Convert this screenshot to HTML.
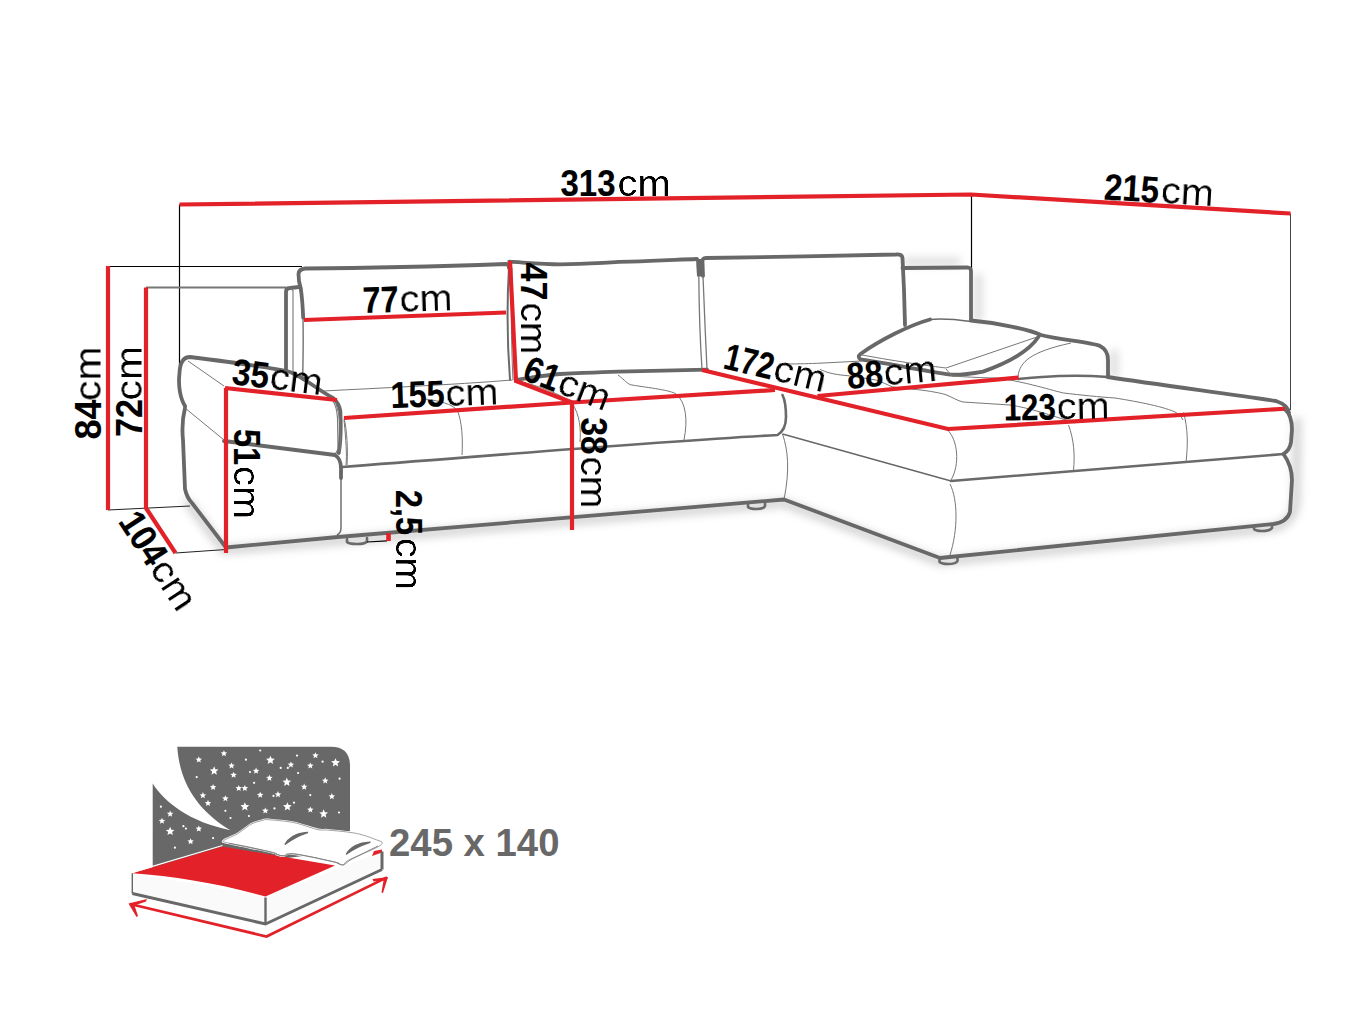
<!DOCTYPE html>
<html><head><meta charset="utf-8"><style>
html,body{margin:0;padding:0;background:#fff;width:1368px;height:1026px;overflow:hidden}
svg{display:block}
text{font-family:"Liberation Sans",sans-serif}
.r{stroke:#e32129;stroke-width:4.2;fill:none;stroke-linecap:butt;stroke-linejoin:miter}
.g{stroke:#686868;stroke-width:3.8;fill:none;stroke-linecap:round;stroke-linejoin:round}
.gm{stroke:#6a6a6a;stroke-width:2.6;fill:none;stroke-linecap:round;stroke-linejoin:round}
.t{stroke:#777;stroke-width:1;fill:none}
.k{stroke:#000;stroke-width:1.2;fill:none}
.d{font-weight:bold;font-size:37px;fill:#000;stroke:#000;stroke-width:0.15}
.c{font-size:36px;fill:#000;filter:url(#thin)}
</style></head><body>
<svg width="1368" height="1026" viewBox="0 0 1368 1026">
<defs>
<filter id="sh" x="-10%" y="-50%" width="120%" height="200%"><feGaussianBlur stdDeviation="4"/></filter>
<filter id="thin" x="-5%" y="-5%" width="110%" height="110%"><feGaussianBlur in="SourceAlpha" stdDeviation="0.45" result="b"/><feComponentTransfer in="b" result="a"><feFuncA type="linear" slope="2.2" intercept="-0.75"/></feComponentTransfer><feFlood flood-color="#000"/><feComposite in2="a" operator="in"/></filter>
<filter id="sh2" x="-50%" y="-50%" width="200%" height="200%"><feGaussianBlur stdDeviation="4"/></filter>
</defs>
<!-- shadows -->
<g filter="url(#sh)" opacity="0.4">
<path d="M186,500 L224,550 L338,541 L784,503 L940,562 L1273,528 Q1295,522 1296,500 L1297,418" stroke="#888" stroke-width="8" fill="none"/>
</g>
<g filter="url(#sh2)" opacity="0.35">
<path d="M978,274 V322 M908,258 V266 M905,262 H960" stroke="#999" stroke-width="8" fill="none"/>
<path d="M1114,350 V378" stroke="#999" stroke-width="8" fill="none"/>
</g>
<!-- extension lines -->
<path class="k" d="M179.5,204.5 V373"/>
<path class="k" d="M108,266.5 H302"/>
<path class="t" d="M146,287.5 H286" style="stroke:#777;stroke-width:1.8"/>
<path class="k" d="M108,510 L190,506" style="stroke:#222;stroke-width:1"/>
<path class="k" d="M175.5,553 L226,549.5" style="stroke:#222;stroke-width:1"/>
<path class="k" d="M971.5,194.5 V269"/>
<path class="k" d="M1290.5,213.5 V410" style="stroke:#444;stroke-width:1"/>

<!-- ===== SOFA ===== -->
<g id="sofa">
<!-- cushion 3 back + right back piece -->
<path class="g" d="M902.5,268 L968,267.5 Q971,268 971,271 L971,320"/>
<path class="g" d="M703,276 L702.5,262 Q702,258 706,258 C760,257 840,256 896,254.5 Q902,254 902.5,258 L904,290 L905,325"/>
<!-- cushion 2 -->
<path class="g" d="M509.3,261.7 C530,263 545,264.3 560,264.3 C590,264 610,262 630.4,261.7 C660,261 680,259.5 697,259"/>
<path d="M696,259 L703,259 L703.5,276.5 L697,276.5 Z" fill="#686868"/>
<path class="t" d="M698.8,276 C699,300 700,340 702,369 M703,276 C704,300 705.5,340 707,369" style="stroke-width:1.3"/>
<path class="g" d="M516.3,380 C530,378 545,375 560,374 C590,372.5 610,371.5 630,371.3 C660,370.5 685,370 707,369.6"/>
<!-- cushion 1 -->
<path class="t" d="M303,320 C303.5,340 303,360 302.7,381" style="stroke:#666;stroke-width:1.3"/>
<path class="g" d="M303.2,318 Q302.5,300 300.7,288 Q298.5,282 298.5,274 Q299,269 305,268.5 C380,268 450,266 506,264 Q509,264 509,268"/>
<path class="gm" d="M509,267 C507,300 507,340 510,380" style="stroke-width:2"/>
<path class="t" d="M512,268 C511,300 511,340 513,380"/>
<!-- armrest back piece -->
<path class="g" d="M286,372 L286,292 Q286,288 290,288 L299,287"/>
<path class="t" d="M290.5,288.4 L293,290.5 V374" style="stroke-width:1.1"/>
<!-- chaise arm / back line -->
<path class="g" d="M971,320.5 C1000,323 1030,330 1041,335 C1060,340 1090,342 1100,346 Q1108,350 1108,360 L1108,377"/>
<path class="g" d="M1108,377 C1160,385 1230,394 1276,401 Q1288,405 1289,413"/>
<path class="t" d="M1018,376 C1020,362 1030,352 1071,343"/>
<path class="gm" d="M1018,379 C1040,377 1070,374 1108,377"/>
<!-- pillow -->
<path class="t" d="M971,321.5 C960,320 945,318 930,319.5" style="stroke:#6a6a6a;stroke-width:1.6"/>
<path class="g" d="M930,319.5 C910,325 880,340 860.5,354 Q857,357 860.5,359.4 C880,362 920,370 950.5,374.7 C960,375 970,374 983,371.6 C1010,362 1030,350 1038.5,336.8"/>
<path class="t" d="M862,355 C900,362 930,366 946,368 L1037,337"/>
<!-- main seat -->
<path class="t" d="M323.5,391 C380,388 450,385 512.5,380"/>
<path class="t" d="M344,420 C346,440 347,455 346,465"/>
<path class="gm" d="M342,467 C500,455 650,442 777.5,435 Q786,430 786,417 C786,405 784,398 782.5,395"/>
<path class="t" d="M425,399 C440,401 452,404 457,410 C462,420 463,440 462,455"/>
<path class="t" d="M572,403 C580,415 581,430 580,442"/>

<path class="t" d="M516,381 C540,385 560,395 572,402"/>
<path class="t" d="M618,375 C625,380 628,385 632,385 C650,388 670,390 676,394 C686,402 688,420 684,440"/>
<path class="t" d="M782.5,434 C788,450 790,470 784,499.5"/>
<!-- armrest -->
<path class="g" d="M185,406 C180,398 178,385 179.5,373 C180,362 184,357 190,357 C230,362 270,367 290,372 C305,378 318,390 333,398 Q339,403 340.3,411 C341,425 341,440 338.8,453"/>
<path class="t" d="M333,401.5 C336,405 337,412 337.5,418 L338,449 Q337,453 333.6,455" style="stroke-width:1.1"/>
<path class="g" d="M224,441 L335,455 Q341,459 341,468 L341,478"/>
<path class="t" d="M341,470 L341,528 Q341,533 337,535" style="stroke:#666;stroke-width:1.4"/>
<path class="g" d="M185,408 C183,416 182,430 183,440 L185,489 Q187,498 192,503 L226,547.5 L338,537 L784,499.5 L940,558 L1273.5,524 Q1287,522 1290,512 L1292,480 Q1292,466 1283.5,454"/>
<path class="t" d="M188,361 L224,386"/>
<path class="t" d="M185,408 L224,440"/>
<path class="t" d="M336,404 Q342,420 340,452"/>
<path class="t" d="M344,418 C347,430 348,450 347,465"/>
<!-- chaise -->
<path class="t" d="M782.5,434 L951,481" style="stroke-width:1.3;stroke:#666"/>
<path class="gm" d="M951,481 L1283.5,454"/>
<path class="t" d="M947.5,430 C958,440 960,465 951,480"/>
<path class="t" d="M950,484 C958,500 958,530 950,555"/>
<path class="g" d="M1284.75,409 Q1292,415 1292,430 L1291,442 Q1290,450 1283.5,454"/>
<path class="t" d="M1068.5,425 C1074,440 1075,455 1073.5,470"/>
<path class="t" d="M1183.5,412.5 C1188,428 1188,445 1186,462.5"/>
<path class="t" d="M786,364 C800,364 810,363.5 820,363.2 L861.7,361 M820,369.4 C826,372 831,374.3 847.8,375.7 L875.6,379.9 C882,382 888,385 892.2,386.8 C900,388 910,389 917.2,389.6 C930,391 940,393 945,394.4 C952,397 958,401 963,402 L1010,405 C1030,408 1050,415 1075,423 M1000,378 C1015,381 1025,383 1032.7,385 C1045,388 1055,391 1063.5,393 C1080,395 1100,397 1115,398 C1140,402 1165,407 1176,412.5 Q1182,416 1183,420 M946,369 L952,376 C980,378 1000,378 1018,379"/>
<!-- legs -->
<path class="gm" d="M748,503 L748,507 Q750,509 756,509 Q764,509 765,506 L765,502"/>
<path class="gm" d="M939.5,558 L939.5,562 Q942,564 948,564 Q956,564 957.5,561 L957.5,557"/>
<path class="gm" d="M1254,526 L1254,529 Q1256,531 1262,531 Q1270,531 1272,528 L1272,525"/>
<path class="gm" d="M347,539 L347,542 Q349,544 357,544 Q366,544 367,541 L367,538"/>
<path class="k" d="M367,542 L387,540.8"/>
</g>

<!-- ===== RED DIMENSION LINES ===== -->
<path class="r" d="M179.5,204.5 L971,194.5 L1290.5,213.5"/>
<path class="r" d="M108,266 V510"/>
<path class="r" d="M146,287.5 V508 L175.5,553"/>
<path class="r" d="M226,388 V553"/>
<path class="r" d="M225,388 L337,400"/>
<path class="r" d="M304,320 L506,312.5"/>
<path class="r" d="M510,261 L516,381 L572,402.5 V530"/>
<path class="r" d="M344,418 L572,402.5 L775,390"/>
<path class="r" d="M702,370 L948,429 L1284.75,408.75"/>
<path class="r" d="M817.5,396 L1018.75,377.5"/>
<path class="r" d="M388.5,533 V541" style="stroke-width:4.6"/>

<!-- ===== LABELS ===== -->
<g transform="translate(560.5,195.5) rotate(0)"><text class="d" x="0" y="0" textLength="55" lengthAdjust="spacingAndGlyphs">313</text><text class="c" x="57" y="0" textLength="53" lengthAdjust="spacingAndGlyphs">cm</text></g>
<g transform="translate(1103.5,199.5) rotate(3.4)"><text class="d" x="0" y="0" textLength="55" lengthAdjust="spacingAndGlyphs">215</text><text class="c" x="57" y="0" textLength="53" lengthAdjust="spacingAndGlyphs">cm</text></g>
<g transform="translate(363,313) rotate(-1.8)"><text class="d" x="0" y="0" textLength="36" lengthAdjust="spacingAndGlyphs">77</text><text class="c" x="37" y="0" textLength="53" lengthAdjust="spacingAndGlyphs">cm</text></g>
<g transform="translate(231,384) rotate(7)"><text class="d" x="0" y="0" textLength="37" lengthAdjust="spacingAndGlyphs">35</text><text class="c" x="38" y="0" textLength="53" lengthAdjust="spacingAndGlyphs">cm</text></g>
<g transform="translate(391,408) rotate(-2)"><text class="d" x="0" y="0" textLength="54" lengthAdjust="spacingAndGlyphs">155</text><text class="c" x="55" y="0" textLength="53" lengthAdjust="spacingAndGlyphs">cm</text></g>
<g transform="translate(521,262.5) rotate(90)"><text class="d" x="0" y="0" textLength="38" lengthAdjust="spacingAndGlyphs">47</text><text class="c" x="40" y="0" textLength="52" lengthAdjust="spacingAndGlyphs">cm</text></g>
<g transform="translate(581,417.5) rotate(90)"><text class="d" x="0" y="0" textLength="37" lengthAdjust="spacingAndGlyphs">38</text><text class="c" x="39" y="0" textLength="52" lengthAdjust="spacingAndGlyphs">cm</text></g>
<g transform="translate(234,429) rotate(90)"><text class="d" x="0" y="0" textLength="36" lengthAdjust="spacingAndGlyphs">51</text><text class="c" x="37" y="0" textLength="53" lengthAdjust="spacingAndGlyphs">cm</text></g>
<g transform="translate(396,490) rotate(90)"><text class="d" x="0" y="0" textLength="45" lengthAdjust="spacingAndGlyphs">2,5</text><text class="c" x="48" y="0" textLength="52" lengthAdjust="spacingAndGlyphs">cm</text></g>
<g transform="translate(100.5,439.5) rotate(-90)"><text class="d" x="0" y="0" textLength="40" lengthAdjust="spacingAndGlyphs">84</text><text class="c" x="38.5" y="0" textLength="54.5" lengthAdjust="spacingAndGlyphs">cm</text></g>
<g transform="translate(141.5,437) rotate(-90)"><text class="d" x="0" y="0" textLength="38" lengthAdjust="spacingAndGlyphs">72</text><text class="c" x="36.5" y="0" textLength="54.5" lengthAdjust="spacingAndGlyphs">cm</text></g>
<g transform="translate(117.5,521.5) rotate(56.7)"><text class="d" x="0" y="0" textLength="56" lengthAdjust="spacingAndGlyphs">104</text><text class="c" x="57" y="0" textLength="53" lengthAdjust="spacingAndGlyphs">cm</text></g>
<g transform="translate(521,379) rotate(21)"><text class="d" x="0" y="0" textLength="36" lengthAdjust="spacingAndGlyphs">61</text><text class="c" x="37" y="0" textLength="53" lengthAdjust="spacingAndGlyphs">cm</text></g>
<g transform="translate(722,368) rotate(13.5)"><text class="d" x="0" y="0" textLength="50" lengthAdjust="spacingAndGlyphs">172</text><text class="c" x="51" y="0" textLength="53" lengthAdjust="spacingAndGlyphs">cm</text></g>
<g transform="translate(848,389) rotate(-5.3)"><text class="d" x="0" y="0" textLength="36" lengthAdjust="spacingAndGlyphs">88</text><text class="c" x="37" y="0" textLength="53" lengthAdjust="spacingAndGlyphs">cm</text></g>
<g transform="translate(1004,420.5) rotate(-1.2)"><text class="d" x="0" y="0" textLength="52" lengthAdjust="spacingAndGlyphs">123</text><text class="c" x="53" y="0" textLength="53" lengthAdjust="spacingAndGlyphs">cm</text></g>
<!-- ===== BED ICON ===== -->
<g id="bed">
<path fill="#686868" d="M177.3,746.8 L331,746.8 Q350,746.8 350,766 L350,850 L152.7,875 L152.7,783.6 C165,803 190,822 230.5,830.3 C205,815 180,790 177.3,746.8 Z"/>
<g id="stars" fill="#fff">
<path d="M198.80,756.28 L199.70,758.44 L202.03,758.63 L200.25,760.15 L200.80,762.43 L198.80,761.21 L196.80,762.43 L197.34,760.15 L195.56,758.63 L197.90,758.44Z"/>
<path d="M223.97,750.14 L224.87,752.30 L227.20,752.49 L225.43,754.01 L225.97,756.29 L223.97,755.07 L221.97,756.29 L222.52,754.01 L220.74,752.49 L223.07,752.30Z"/>
<circle cx="260.2" cy="750.5" r="1.1"/>
<path d="M270.43,755.69 L271.65,758.62 L274.80,758.87 L272.40,760.93 L273.13,764.01 L270.43,762.36 L267.73,764.01 L268.46,760.93 L266.05,758.87 L269.21,758.62Z"/>
<circle cx="297.0" cy="755.6" r="1.1"/>
<path d="M315.46,752.18 L316.36,754.35 L318.69,754.53 L316.91,756.06 L317.45,758.33 L315.46,757.11 L313.46,758.33 L314.00,756.06 L312.22,754.53 L314.56,754.35Z"/>
<path d="M335.51,758.15 L336.73,761.07 L339.89,761.33 L337.48,763.39 L338.22,766.47 L335.51,764.82 L332.81,766.47 L333.55,763.39 L331.14,761.33 L334.30,761.07Z"/>
<path d="M231.54,762.42 L232.44,764.58 L234.78,764.77 L233.00,766.29 L233.54,768.57 L231.54,767.35 L229.54,768.57 L230.09,766.29 L228.31,764.77 L230.64,764.58Z"/>
<circle cx="245.9" cy="759.7" r="1.1"/>
<path d="M214.15,766.33 L215.36,769.26 L218.52,769.51 L216.12,771.57 L216.85,774.65 L214.15,773.00 L211.44,774.65 L212.18,771.57 L209.77,769.51 L212.93,769.26Z"/>
<path d="M233.59,771.63 L234.49,773.79 L236.82,773.98 L235.04,775.50 L235.59,777.78 L233.59,776.56 L231.59,777.78 L232.13,775.50 L230.36,773.98 L232.69,773.79Z"/>
<circle cx="250.0" cy="772.0" r="1.1"/>
<path d="M256.10,767.53 L257.00,769.70 L259.34,769.88 L257.56,771.41 L258.10,773.68 L256.10,772.46 L254.10,773.68 L254.65,771.41 L252.87,769.88 L255.20,769.70Z"/>
<circle cx="280.7" cy="767.9" r="1.1"/>
<path d="M290.90,761.39 L291.80,763.56 L294.13,763.74 L292.35,765.27 L292.89,767.54 L290.90,766.32 L288.90,767.54 L289.44,765.27 L287.66,763.74 L290.00,763.56Z"/>
<circle cx="287.8" cy="767.9" r="1.1"/>
<path d="M310.34,762.42 L311.24,764.58 L313.57,764.77 L311.79,766.29 L312.34,768.57 L310.34,767.35 L308.34,768.57 L308.88,766.29 L307.11,764.77 L309.44,764.58Z"/>
<circle cx="322.6" cy="761.7" r="1.1"/>
<circle cx="196.7" cy="777.1" r="1.1"/>
<path d="M269.41,774.70 L270.31,776.86 L272.64,777.05 L270.86,778.57 L271.40,780.85 L269.41,779.63 L267.41,780.85 L267.95,778.57 L266.17,777.05 L268.51,776.86Z"/>
<path d="M286.80,777.59 L288.02,780.52 L291.18,780.77 L288.77,782.83 L289.51,785.91 L286.80,784.26 L284.10,785.91 L284.83,782.83 L282.43,780.77 L285.59,780.52Z"/>
<circle cx="298.1" cy="773.0" r="1.1"/>
<path d="M325.28,777.36 L326.18,779.52 L328.51,779.71 L326.74,781.23 L327.28,783.51 L325.28,782.29 L323.28,783.51 L323.83,781.23 L322.05,779.71 L324.38,779.52Z"/>
<circle cx="339.6" cy="778.7" r="1.1"/>
<path d="M213.12,783.91 L214.02,786.07 L216.36,786.26 L214.58,787.78 L215.12,790.06 L213.12,788.84 L211.12,790.06 L211.67,787.78 L209.89,786.26 L212.22,786.07Z"/>
<path d="M238.71,784.93 L239.61,787.09 L241.94,787.28 L240.16,788.80 L240.70,791.08 L238.71,789.86 L236.71,791.08 L237.25,788.80 L235.47,787.28 L237.81,787.09Z"/>
<path d="M244.85,784.93 L245.75,787.09 L248.08,787.28 L246.30,788.80 L246.84,791.08 L244.85,789.86 L242.85,791.08 L243.39,788.80 L241.61,787.28 L243.95,787.09Z"/>
<circle cx="254.1" cy="782.8" r="1.1"/>
<path d="M304.20,783.50 L305.10,785.66 L307.43,785.85 L305.65,787.37 L306.20,789.65 L304.20,788.43 L302.20,789.65 L302.74,787.37 L300.97,785.85 L303.30,785.66Z"/>
<path d="M202.89,792.09 L203.79,794.26 L206.12,794.44 L204.35,795.97 L204.89,798.24 L202.89,797.02 L200.89,798.24 L201.43,795.97 L199.66,794.44 L201.99,794.26Z"/>
<path d="M225.40,795.16 L226.30,797.33 L228.64,797.51 L226.86,799.04 L227.40,801.31 L225.40,800.09 L223.40,801.31 L223.95,799.04 L222.17,797.51 L224.50,797.33Z"/>
<path d="M260.20,791.68 L261.10,793.85 L263.43,794.03 L261.65,795.56 L262.19,797.83 L260.20,796.61 L258.20,797.83 L258.74,795.56 L256.96,794.03 L259.30,793.85Z"/>
<circle cx="273.5" cy="795.9" r="1.1"/>
<path d="M278.00,791.07 L278.90,793.23 L281.24,793.42 L279.46,794.94 L280.00,797.22 L278.00,796.00 L276.00,797.22 L276.55,794.94 L274.77,793.42 L277.10,793.23Z"/>
<circle cx="310.3" cy="795.1" r="1.1"/>
<path d="M331.83,793.12 L332.73,795.28 L335.06,795.47 L333.28,796.99 L333.83,799.27 L331.83,798.05 L329.83,799.27 L330.37,796.99 L328.60,795.47 L330.93,795.28Z"/>
<path d="M208.01,799.87 L208.91,802.03 L211.24,802.22 L209.46,803.74 L210.01,806.02 L208.01,804.80 L206.01,806.02 L206.55,803.74 L204.77,802.22 L207.11,802.03Z"/>
<path d="M244.85,802.15 L246.06,805.08 L249.22,805.33 L246.82,807.39 L247.55,810.47 L244.85,808.82 L242.14,810.47 L242.88,807.39 L240.47,805.33 L243.63,805.08Z"/>
<path d="M265.31,807.44 L266.21,809.61 L268.55,809.79 L266.77,811.32 L267.31,813.59 L265.31,812.37 L263.31,813.59 L263.86,811.32 L262.08,809.79 L264.41,809.61Z"/>
<path d="M287.42,802.15 L288.63,805.08 L291.79,805.33 L289.39,807.39 L290.12,810.47 L287.42,808.82 L284.71,810.47 L285.45,807.39 L283.04,805.33 L286.20,805.08Z"/>
<circle cx="294.0" cy="802.7" r="1.1"/>
<circle cx="274.5" cy="808.4" r="1.1"/>
<path d="M310.34,806.42 L311.24,808.58 L313.57,808.77 L311.79,810.29 L312.34,812.57 L310.34,811.35 L308.34,812.57 L308.88,810.29 L307.11,808.77 L309.44,808.58Z"/>
<path d="M323.64,809.31 L324.86,812.24 L328.02,812.49 L325.61,814.55 L326.35,817.63 L323.64,815.98 L320.94,817.63 L321.67,814.55 L319.27,812.49 L322.43,812.24Z"/>
<circle cx="339.0" cy="812.5" r="1.1"/>
<circle cx="225.4" cy="810.8" r="1.1"/>
<circle cx="230.5" cy="818.0" r="1.1"/>
<circle cx="248.9" cy="816.0" r="1.1"/>
<circle cx="160.9" cy="806.7" r="1.1"/>
<path d="M170.14,810.51 L171.04,812.68 L173.38,812.86 L171.60,814.39 L172.14,816.66 L170.14,815.44 L168.14,816.66 L168.69,814.39 L166.91,812.86 L169.24,812.68Z"/>
<path d="M161.96,817.68 L162.86,819.84 L165.19,820.03 L163.41,821.55 L163.96,823.83 L161.96,822.61 L159.96,823.83 L160.50,821.55 L158.72,820.03 L161.06,819.84Z"/>
<path d="M170.14,826.71 L171.36,829.64 L174.52,829.89 L172.11,831.95 L172.85,835.03 L170.14,833.38 L167.44,835.03 L168.17,831.95 L165.77,829.89 L168.93,829.64Z"/>
<circle cx="183.4" cy="826.2" r="1.1"/>
<circle cx="185.9" cy="828.6" r="1.1"/>
<path d="M198.80,825.45 L199.70,827.62 L202.03,827.80 L200.25,829.33 L200.80,831.60 L198.80,830.38 L196.80,831.60 L197.34,829.33 L195.56,827.80 L197.90,827.62Z"/>
<path d="M190.61,838.14 L191.51,840.31 L193.84,840.49 L192.07,842.02 L192.61,844.29 L190.61,843.07 L188.61,844.29 L189.15,842.02 L187.38,840.49 L189.71,840.31Z"/>
<circle cx="213.1" cy="838.1" r="1.1"/>
<circle cx="174.9" cy="847.7" r="1.1"/>
</g>
<!-- mattress sides -->
<path fill="#fafafa" d="M132.3,873.3 L265.5,896.5 L382,851.5 L382,869.5 L265.5,924 L132.3,893.5 Z"/>
<path fill="#e32129" d="M132.3,873.3 L222.5,846.5 L335,865.5 L265.5,896.5 C220,884 175,876 132.3,873.3 Z"/>
<path fill="#e32129" d="M374,851 L382,849.5 L382,852.5 L372,856 Z"/>
<path stroke="#fff" stroke-width="1.2" fill="none" d="M132.3,872.3 L222.5,845.5"/>
<path stroke="#686868" stroke-width="1.4" fill="none" d="M132.3,873.3 V893.5"/>
<path stroke="#686868" stroke-width="3" fill="none" d="M132.3,893.5 L265.5,924 L382,869.5 M382,851.5 V869.5"/>
<path stroke="#686868" stroke-width="2.4" fill="none" d="M265.5,897.5 V923"/>
<!-- pillows -->
<path fill="#fff" stroke="#fff" stroke-width="2.2" d="M223.9,840.5 C225.3,838.9 233.2,836.4 237.8,833.6 C242.4,830.8 247.5,826.1 251.7,823.9 C255.9,821.7 260.0,821.1 262.8,820.4 C265.6,819.7 263.2,819.4 268.3,819.7 C273.4,820.1 285.2,820.9 293.3,822.5 C301.4,824.1 311.2,828.1 317.0,829.4 C322.8,830.7 322.7,829.6 328.0,830.1 C333.3,830.6 343.1,831.4 348.9,832.2 C354.7,833.0 358.2,833.7 362.8,835.0 C367.4,836.3 373.5,838.6 376.7,839.9 C379.9,841.2 382.2,841.3 382.2,842.6 C382.2,843.9 382.2,844.6 376.7,847.5 C371.1,850.4 354.5,857.1 348.9,860.0 C343.3,862.9 345.1,864.3 343.3,864.9 C341.5,865.5 339.2,864.0 337.8,863.5 C336.4,863.0 342.4,863.7 335.0,862.1 C327.6,860.5 301.9,854.8 293.3,853.8 C284.7,852.7 286.4,855.7 283.6,855.8 C280.8,855.9 278.6,855.0 276.7,854.4 C274.8,853.8 280.4,854.2 272.5,852.4 C264.6,850.5 237.5,845.3 229.4,843.3 C221.3,841.3 222.5,842.1 223.9,840.5Z"/>
<path fill="none" stroke="#8a8a8a" stroke-width="0.8" d="M223.9,840.5 C225.3,838.9 233.2,836.4 237.8,833.6 C242.4,830.8 247.5,826.1 251.7,823.9 C255.9,821.7 260.0,821.1 262.8,820.4 C265.6,819.7 263.2,819.4 268.3,819.7 C273.4,820.1 285.2,820.9 293.3,822.5 C301.4,824.1 311.2,828.1 317.0,829.4 C322.8,830.7 322.7,829.6 328.0,830.1 C333.3,830.6 343.1,831.4 348.9,832.2 C354.7,833.0 358.2,833.7 362.8,835.0 C367.4,836.3 373.5,838.6 376.7,839.9 C379.9,841.2 382.2,841.3 382.2,842.6 C382.2,843.9 382.2,844.6 376.7,847.5 C371.1,850.4 354.5,857.1 348.9,860.0 C343.3,862.9 345.1,864.3 343.3,864.9 C341.5,865.5 339.2,864.0 337.8,863.5 C336.4,863.0 342.4,863.7 335.0,862.1 C327.6,860.5 301.9,854.8 293.3,853.8 C284.7,852.7 286.4,855.7 283.6,855.8 C280.8,855.9 278.6,855.0 276.7,854.4 C274.8,853.8 280.4,854.2 272.5,852.4 C264.6,850.5 237.5,845.3 229.4,843.3 C221.3,841.3 222.5,842.1 223.9,840.5Z"/>
<path stroke="#777" stroke-width="0.9" fill="none" d="M229.4,843.3 C250,847 262,850 272.5,852.4 C276,854 280,856 283.6,855.8 C287,855 290,853.5 293.3,853.75 C310,856 325,860 335,862.1 C338,863 341,865 343.3,864.9 C346,864 348,861 351,859.5 C360,855 370,850 378,846"/>
<path fill="#686868" d="M285.2,844.2 C288,839 295,833 307.5,832.5 C300,835 292,839 285.2,844.2 Z M346.5,854 C350,848 357,843 370,842.3 C362,845 353,849 346.5,854 Z" stroke="#686868" stroke-width="1.4" stroke-linejoin="round"/>
<!-- arrow -->
<path stroke="#e32129" stroke-width="2.7" fill="none" d="M130,904 L266.5,936.5 L387,877.4"/>
<path fill="#e32129" d="M128.5,903.6 L147,899 L146,901.5 L134.5,905.5 L138,916 L136.5,917 Z M388,877 L372.5,879 L373.5,881.5 L383.5,880.5 L381.5,892.5 L383,893 Z"/>
</g>
<text x="389" y="856" style="font-family:'Liberation Sans',sans-serif;font-weight:bold;font-size:38.8px;fill:#686868" textLength="170.5" lengthAdjust="spacingAndGlyphs">245 x 140</text>

</svg>
</body></html>
